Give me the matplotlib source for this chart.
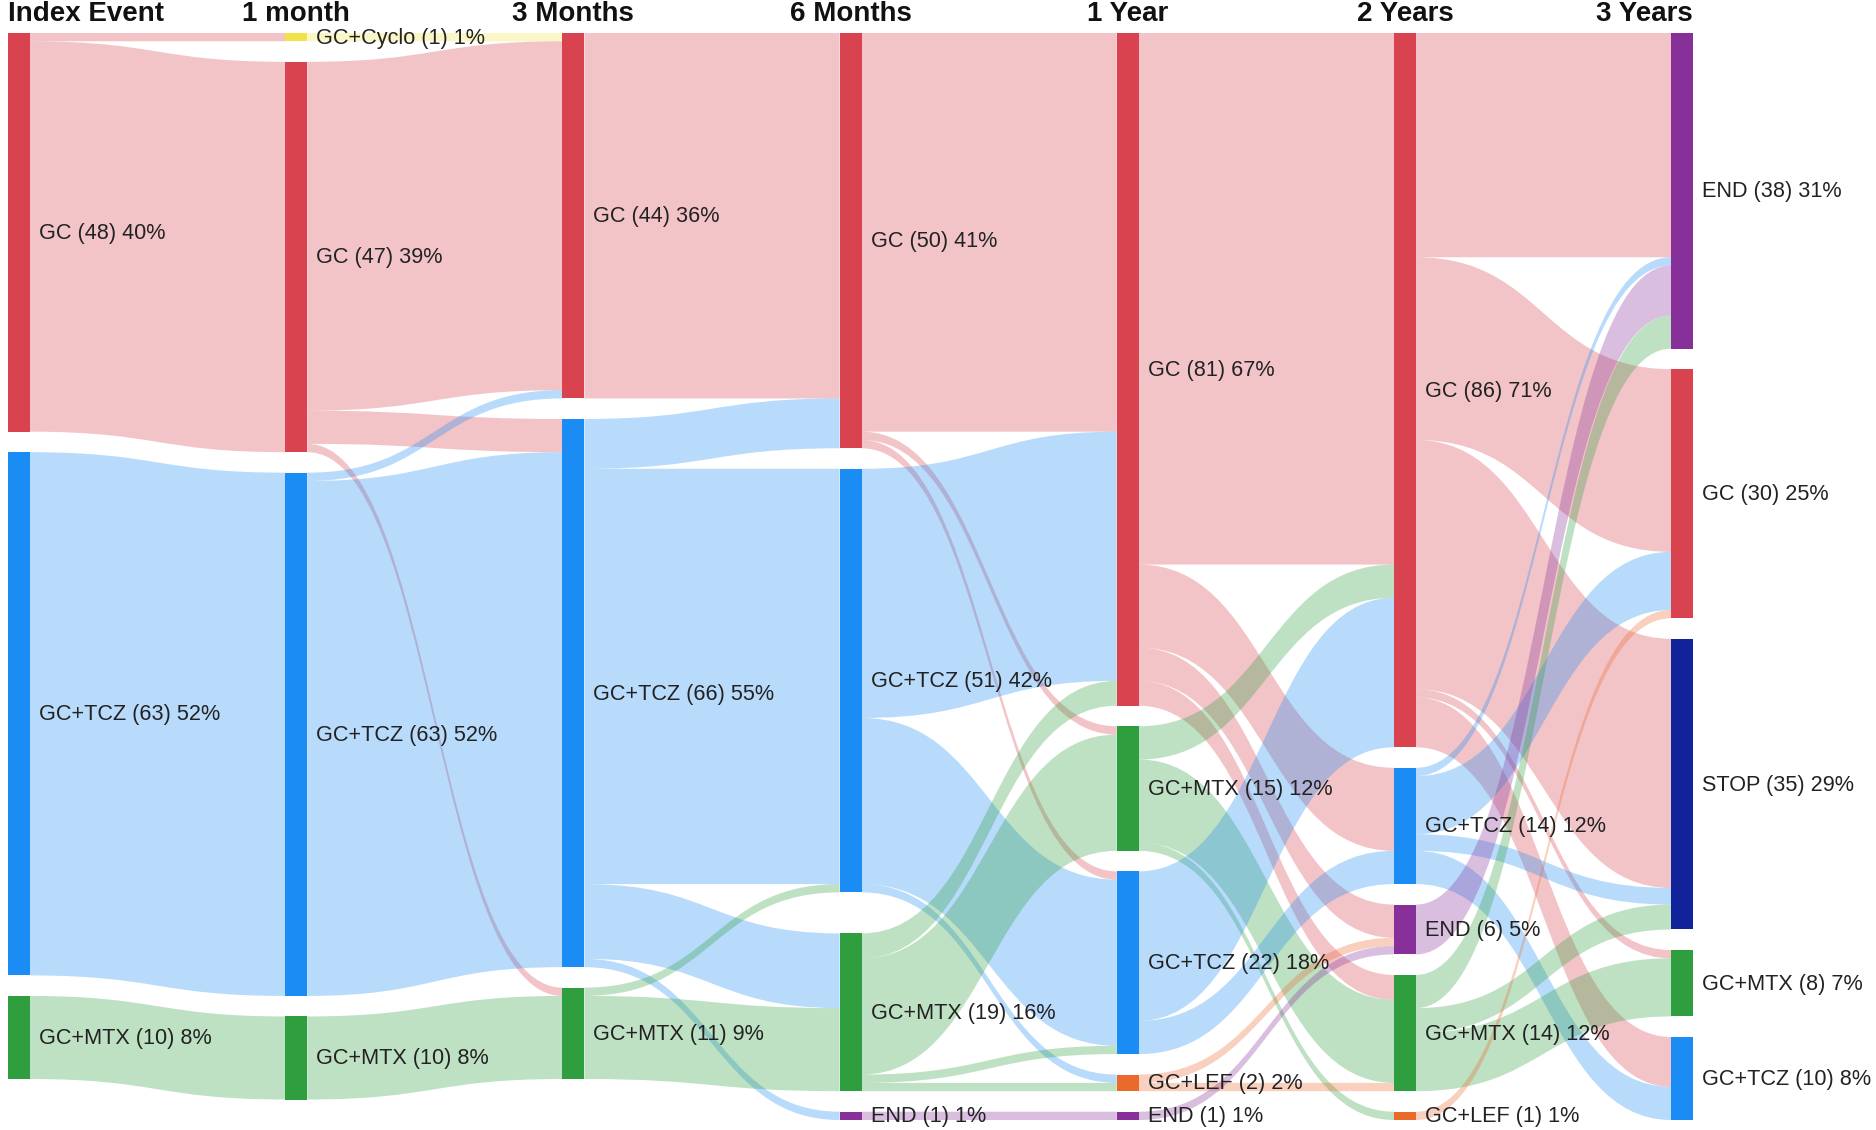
import matplotlib
matplotlib.use("Agg")
import matplotlib.pyplot as plt
from matplotlib.path import Path
from matplotlib.patches import PathPatch, Rectangle

# ---------------- data ----------------
TOTAL = 121
stages = ["Index Event", "1 month", "3 Months", "6 Months", "1 Year", "2 Years", "3 Years"]

index_nodes = ["GC", "GC+TCZ", "GC+MTX"]
index_counts = [48, 63, 10]
m1_nodes = ["GC+Cyclo", "GC", "GC+TCZ", "GC+MTX"]
m1_counts = [1, 47, 63, 10]
m3_nodes = ["GC", "GC+TCZ", "GC+MTX"]
m3_counts = [44, 66, 11]
m6_nodes = ["GC", "GC+TCZ", "GC+MTX", "END"]
m6_counts = [50, 51, 19, 1]
y1_nodes = ["GC", "GC+MTX", "GC+TCZ", "GC+LEF", "END"]
y1_counts = [81, 15, 22, 2, 1]
y2_nodes = ["GC", "GC+TCZ", "END", "GC+MTX", "GC+LEF"]
y2_counts = [86, 14, 6, 14, 1]
y3_nodes = ["END", "GC", "STOP", "GC+MTX", "GC+TCZ"]
y3_counts = [38, 30, 35, 8, 10]

flows_index_m1 = [("GC", "GC+Cyclo", 1), ("GC", "GC", 47),
                  ("GC+TCZ", "GC+TCZ", 63), ("GC+MTX", "GC+MTX", 10)]
flows_m1_m3 = [("GC+Cyclo", "GC", 1), ("GC", "GC", 42), ("GC", "GC+TCZ", 4),
               ("GC", "GC+MTX", 1), ("GC+TCZ", "GC", 1), ("GC+TCZ", "GC+TCZ", 62),
               ("GC+MTX", "GC+MTX", 10)]
flows_m3_m6 = [("GC", "GC", 44), ("GC+TCZ", "GC", 6), ("GC+TCZ", "GC+TCZ", 50),
               ("GC+TCZ", "GC+MTX", 9), ("GC+TCZ", "END", 1),
               ("GC+MTX", "GC+TCZ", 1), ("GC+MTX", "GC+MTX", 10)]
flows_m6_y1 = [("GC", "GC", 48), ("GC", "GC+MTX", 1), ("GC", "GC+TCZ", 1),
               ("GC+TCZ", "GC", 30), ("GC+TCZ", "GC+TCZ", 20), ("GC+TCZ", "GC+LEF", 1),
               ("GC+MTX", "GC", 3), ("GC+MTX", "GC+MTX", 14), ("GC+MTX", "GC+TCZ", 1),
               ("GC+MTX", "GC+LEF", 1), ("END", "END", 1)]
flows_y1_y2 = [("GC", "GC", 64), ("GC", "GC+TCZ", 10), ("GC", "END", 4), ("GC", "GC+MTX", 3),
               ("GC+MTX", "GC", 4), ("GC+MTX", "GC+MTX", 10), ("GC+MTX", "GC+LEF", 1),
               ("GC+TCZ", "GC", 18), ("GC+TCZ", "GC+TCZ", 4),
               ("GC+LEF", "END", 1), ("GC+LEF", "GC+MTX", 1), ("END", "END", 1)]
flows_y2_y3 = [("GC", "END", 27), ("GC", "GC", 22), ("GC", "STOP", 30), ("GC", "GC+MTX", 1),
               ("GC", "GC+TCZ", 6), ("GC+TCZ", "END", 1), ("GC+TCZ", "GC", 7),
               ("GC+TCZ", "STOP", 2), ("GC+TCZ", "GC+TCZ", 4), ("END", "END", 6),
               ("GC+MTX", "END", 4), ("GC+MTX", "STOP", 3), ("GC+MTX", "GC+MTX", 7),
               ("GC+LEF", "GC", 1)]

# ---------------- style / layout ----------------
node_colors = {"GC": "#d8434f", "GC+TCZ": "#1b8cf3", "GC+MTX": "#2f9e3f",
               "END": "#87309a", "STOP": "#10239a", "GC+LEF": "#ea6a2c",
               "GC+Cyclo": "#f1e24a"}
FLOW_ALPHA = 0.31

columns = [(index_nodes, index_counts), (m1_nodes, m1_counts), (m3_nodes, m3_counts),
           (m6_nodes, m6_counts), (y1_nodes, y1_counts), (y2_nodes, y2_counts),
           (y3_nodes, y3_counts)]
all_flows = [flows_index_m1, flows_m1_m3, flows_m3_m6, flows_m6_y1, flows_y1_y2, flows_y2_y3]

W, H = 1876, 1130
TOP, BOTTOM = 33, 1120
GAP = 20.5
NODE_W = 22
X0, DX = 8, 277.2
K = (BOTTOM - TOP - 4 * GAP) / TOTAL
extra_gap = {(3, 2): 1}   # column 3: one extra empty slot before node 2

fig = plt.figure(figsize=(W / 100, H / 100), dpi=100)
ax = fig.add_axes([0, 0, 1, 1])
ax.set_xlim(0, W)
ax.set_ylim(H, 0)
ax.axis("off")

# node positions
node_pos = []  # per column: dict name -> (x, ytop, ybottom)
for ci, (names, counts) in enumerate(columns):
    x = X0 + ci * DX
    y = TOP
    d = {}
    for ni, (nm, c) in enumerate(zip(names, counts)):
        y += extra_gap.get((ci, ni), 0) * GAP
        d[nm] = (x, y, y + c * K)
        y += c * K + GAP
    node_pos.append(d)

# flows
for ci, flows in enumerate(all_flows):
    src_col = columns[ci][0]
    tgt_col = columns[ci + 1][0]
    sp, tp = node_pos[ci], node_pos[ci + 1]
    out_off = {n: sp[n][1] for n in src_col}
    in_off = {n: tp[n][1] for n in tgt_col}
    src_order = sorted(flows, key=lambda f: (src_col.index(f[0]), tgt_col.index(f[1])))
    ys = {}
    for f in src_order:
        ys[f] = [out_off[f[0]], out_off[f[0]] + f[2] * K]
        out_off[f[0]] += f[2] * K
    tgt_order = sorted(flows, key=lambda f: (tgt_col.index(f[1]), src_col.index(f[0])))
    yt = {}
    for f in tgt_order:
        yt[f] = [in_off[f[1]], in_off[f[1]] + f[2] * K]
        in_off[f[1]] += f[2] * K
    for f in flows:
        xa = sp[f[0]][0] + NODE_W
        xb = tp[f[1]][0]
        xm = (xa + xb) / 2
        (a0, a1), (b0, b1) = ys[f], yt[f]
        verts = [(xa, a0), (xm, a0), (xm, b0), (xb, b0), (xb, b1),
                 (xm, b1), (xm, a1), (xa, a1), (xa, a0)]
        codes = [Path.MOVETO, Path.CURVE4, Path.CURVE4, Path.CURVE4, Path.LINETO,
                 Path.CURVE4, Path.CURVE4, Path.CURVE4, Path.CLOSEPOLY]
        ax.add_patch(PathPatch(Path(verts, codes), facecolor=node_colors[f[0]],
                               edgecolor="none", alpha=FLOW_ALPHA, zorder=1))

# nodes and labels
for ci, (names, counts) in enumerate(columns):
    for nm, c in zip(names, counts):
        x, y0, y1 = node_pos[ci][nm]
        ax.add_patch(Rectangle((x, y0), NODE_W, y1 - y0, facecolor=node_colors[nm],
                               edgecolor="none", zorder=3))
        pct = round(c / TOTAL * 100 + 1e-9)
        ax.text(x + NODE_W + 9, (y0 + y1) / 2 + 1, f"{nm} ({c}) {pct}%",
                fontsize=15.6, family="Liberation Sans", color="#222222",
                va="center", ha="left", zorder=4)

# stage titles
for ci, st in enumerate(stages):
    x = X0 + ci * DX
    if ci == 0:
        tx, ha = x, "left"
    elif ci == len(stages) - 1:
        tx, ha = x + NODE_W, "right"
    else:
        tx, ha = x + NODE_W / 2, "center"
    ax.text(tx, 21, st, fontsize=20, fontweight="bold", family="Liberation Sans",
            color="#111111", ha=ha, va="baseline", zorder=4)

fig.savefig("out.png", dpi=100)
